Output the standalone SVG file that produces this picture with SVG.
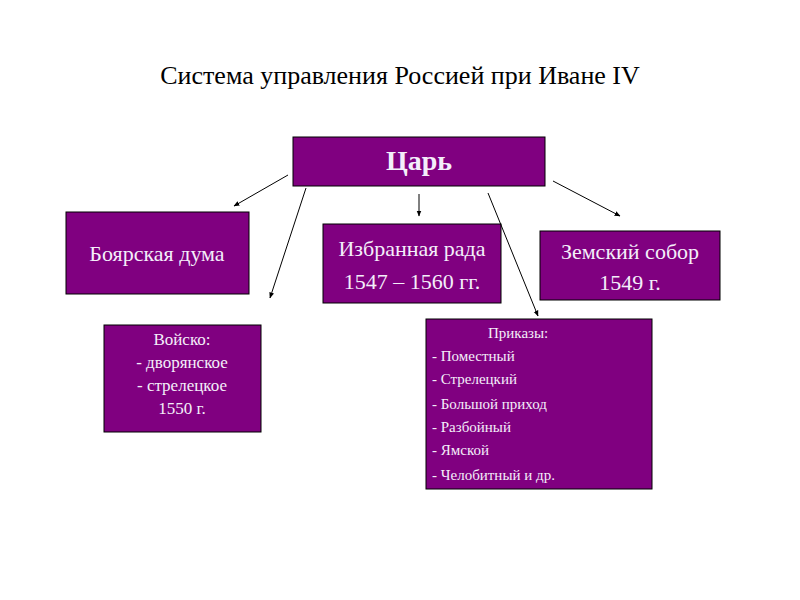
<svg xmlns="http://www.w3.org/2000/svg" width="800" height="600" viewBox="0 0 800 600">
<style>
.b{fill:#800080;stroke:#000;stroke-width:1}
.t{font-family:"Liberation Serif",serif;fill:#f4eefa}
.c line{stroke:#000;stroke-width:1;marker-end:url(#a)}
</style>
<defs><marker id="a" viewBox="0 0 10 10" refX="9" refY="5" markerWidth="6" markerHeight="6" orient="auto"><path d="M0,1 L10,5 L0,9z" fill="#000"/></marker></defs>
<rect width="800" height="600" fill="#fff"/>
<text x="400" y="84" text-anchor="middle" font-family="Liberation Serif,serif" font-size="26" fill="#000">Система управления  Россией при Иване IV</text>
<g id="tsar"><rect class="b" x="293" y="137" width="252" height="49"/><text class="t" x="419" y="170" text-anchor="middle" font-size="28" font-weight="bold">Царь</text></g>
<g id="duma"><rect class="b" x="66" y="212" width="183" height="82"/><text class="t" x="157" y="261" text-anchor="middle" font-size="22">Боярская дума</text></g>
<g id="rada"><rect class="b" x="323" y="224" width="178" height="79"/><text class="t" x="412" y="256" text-anchor="middle" font-size="22">Избранная рада</text><text class="t" x="412" y="289" text-anchor="middle" font-size="22">1547 – 1560 гг.</text></g>
<g id="sobor"><rect class="b" x="540" y="231" width="180" height="69"/><text class="t" x="630" y="259" text-anchor="middle" font-size="22">Земский собор</text><text class="t" x="630" y="290" text-anchor="middle" font-size="22">1549 г.</text></g>
<g id="army"><rect class="b" x="104" y="325" width="157" height="107"/>
<text class="t" x="182" y="345" text-anchor="middle" font-size="17">Войско:</text>
<text class="t" x="182" y="368" text-anchor="middle" font-size="17">- дворянское</text>
<text class="t" x="182" y="391" text-anchor="middle" font-size="17">- стрелецкое</text>
<text class="t" x="182" y="414" text-anchor="middle" font-size="17">1550 г.</text></g>
<g id="prikazy"><rect class="b" x="426" y="319" width="226" height="170"/>
<g class="t" font-size="15"><text x="488" y="338">Приказы:</text>
<text x="432" y="361">- Поместный</text>
<text x="432" y="384">- Стрелецкий</text>
<text x="432" y="409">- Большой приход</text>
<text x="432" y="432">- Разбойный</text>
<text x="432" y="455">- Ямской</text>
<text x="432" y="480">- Челобитный и др.</text></g></g>
<g class="c" id="connectors">
<line x1="288" y1="175" x2="234" y2="206"/>
<line x1="306" y1="188" x2="270" y2="298"/>
<line x1="419" y1="194" x2="419" y2="216"/>
<line x1="488" y1="193" x2="538" y2="316"/>
<line x1="553" y1="181" x2="620" y2="216"/>
</g>
</svg>
